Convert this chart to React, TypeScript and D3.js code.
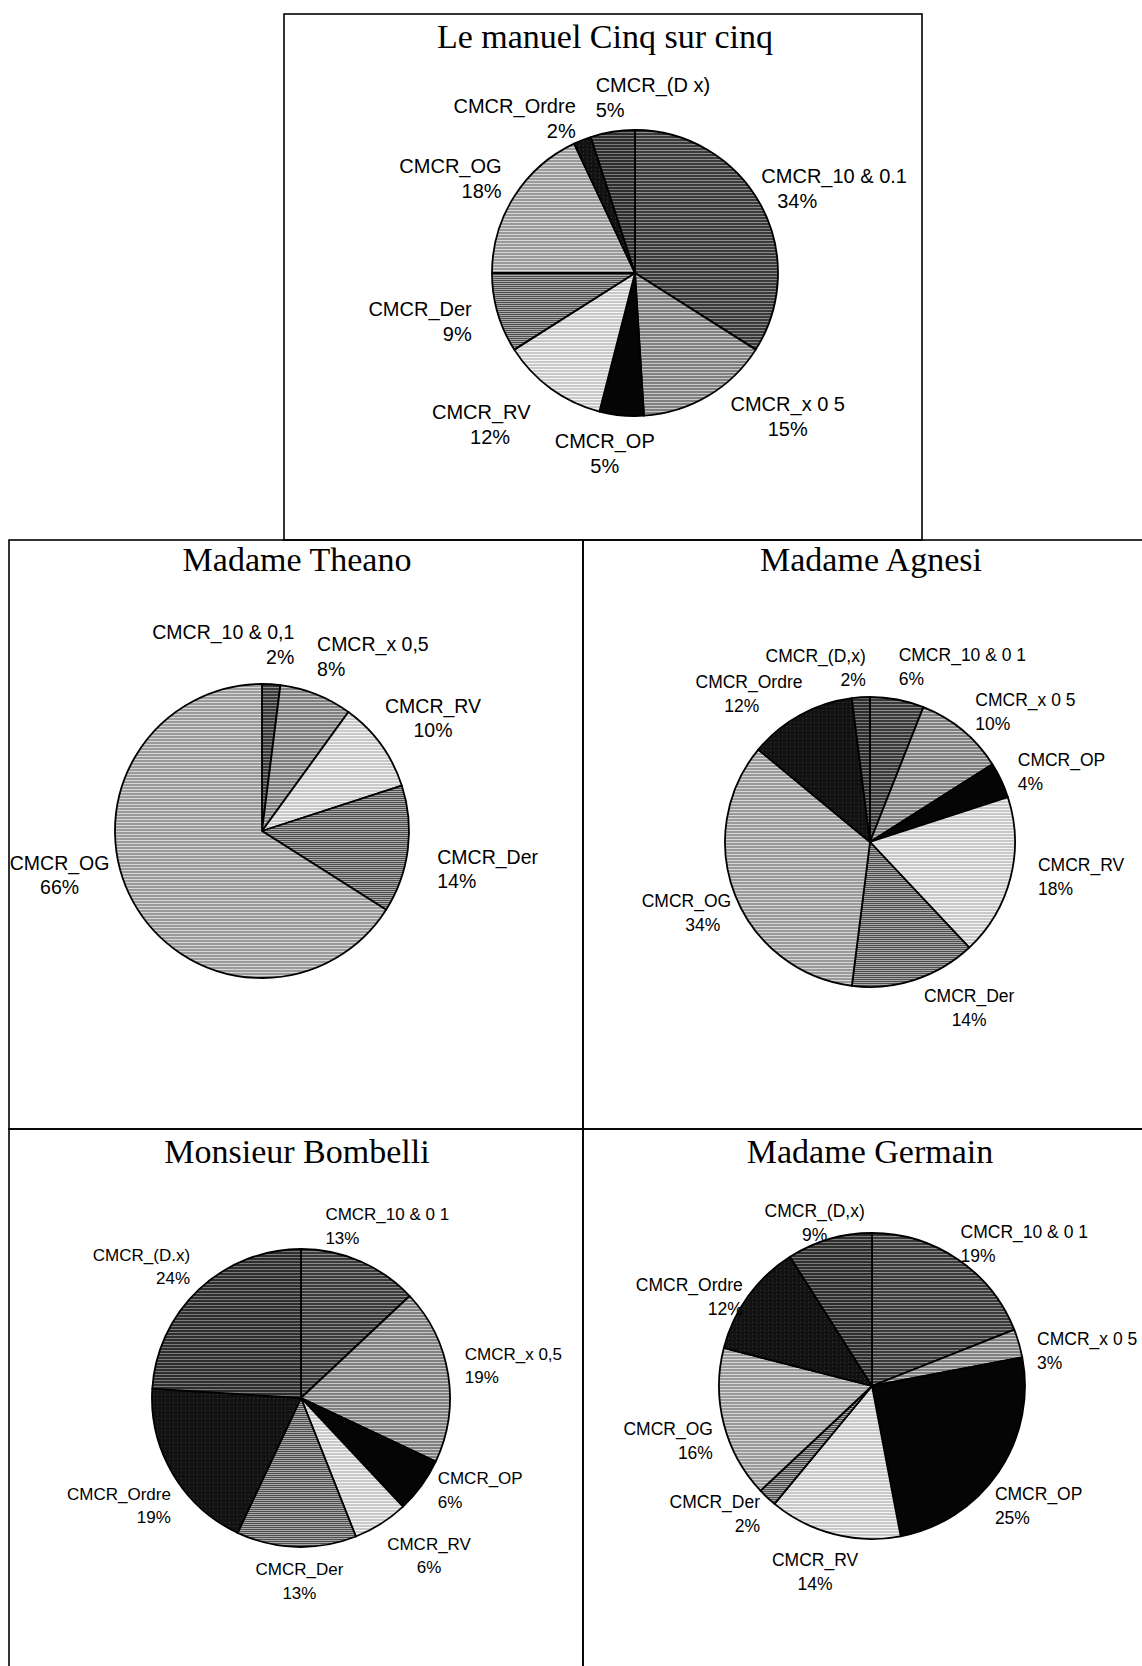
import React from "react";
import * as d3 from "d3";

// ---------- data ----------
const sliceKeys = ["dix", "x05", "op", "rv", "der", "og", "ordre", "dx"];

const titles = [
  "Le manuel Cinq sur cinq",
  "Madame Theano",
  "Madame Agnesi",
  "Monsieur Bombelli",
  "Madame Germain",
];

const cinqValues = [34, 15, 5, 12, 9, 18, 2, 5];
const cinqLabels = ["CMCR_10 & 0.1", "CMCR_x 0 5", "CMCR_OP", "CMCR_RV", "CMCR_Der", "CMCR_OG", "CMCR_Ordre", "CMCR_(D x)"];

const theanoValues = [2, 8, 0, 10, 14, 66, 0, 0];
const theanoLabels = ["CMCR_10 & 0,1", "CMCR_x 0,5", "CMCR_OP", "CMCR_RV", "CMCR_Der", "CMCR_OG", "CMCR_Ordre", "CMCR_(D,x)"];

const agnesiValues = [6, 10, 4, 18, 14, 34, 12, 2];
const agnesiLabels = ["CMCR_10 & 0 1", "CMCR_x 0 5", "CMCR_OP", "CMCR_RV", "CMCR_Der", "CMCR_OG", "CMCR_Ordre", "CMCR_(D,x)"];

const bombelliValues = [13, 19, 6, 6, 13, 0, 19, 24];
const bombelliLabels = ["CMCR_10 & 0 1", "CMCR_x 0,5", "CMCR_OP", "CMCR_RV", "CMCR_Der", "CMCR_OG", "CMCR_Ordre", "CMCR_(D.x)"];

const germainValues = [19, 3, 25, 14, 2, 16, 12, 9];
const germainLabels = ["CMCR_10 & 0 1", "CMCR_x 0 5", "CMCR_OP", "CMCR_RV", "CMCR_Der", "CMCR_OG", "CMCR_Ordre", "CMCR_(D,x)"];

// ---------- style / layout ----------
const W = 1142;
const H = 1666;

const fills: Record<string, { base: string; line: string; step: number }> = {
  dix: { base: "#3a3a3a", line: "#8c8c8c", step: 3 },
  x05: { base: "#808080", line: "#c8c8c8", step: 3 },
  op: { base: "#050505", line: "#050505", step: 3 },
  rv: { base: "#c9c9c9", line: "#f4f4f4", step: 3 },
  der: { base: "#4e4e4e", line: "#a8a8a8", step: 2 },
  og: { base: "#9a9a9a", line: "#d6d6d6", step: 3 },
  ordre: { base: "#121212", line: "#3a3a3a", step: 4 },
  dx: { base: "#2e2e2e", line: "#7a7a7a", step: 3 },
};

// label placement tweaks per slice: [dx, dy, line alignment 0=left..1=right]
const cinqAdjust: [number, number, number][] = [
  [0, 0, 0.15], [45, -12, 0.5], [-11, 0, 0.5], [-34, 5, 0.65], [-17, -3, 1], [-11, 0, 1], [-41, 11, 1], [51, 0, 0],
];
const theanoAdjust: [number, number, number][] = [
  [-54, 11, 1], [27, 10, 0], [0, 0, 0.5], [-7, 4, 0.5], [5, 15, 0], [-8, -49, 0.5], [0, 0, 0.5], [0, 0, 0.5],
];
const agnesiAdjust: [number, number, number][] = [
  [50, 9, 0], [20, 14, 0], [5, 10, 0], [12, -11, 0], [35, -11, 0.5], [9, 3, 0.8], [-17, 16, 0.4], [-41, 13, 1],
];
const bombelliAdjust: [number, number, number][] = [
  [-4, 2, 0], [1, -2, 0], [11, -18, 0], [17, -1, 0.5], [5, -5, 0.5], [0, 0, 0.5], [5, 12, 1], [-13, 7, 1],
];
const germainAdjust: [number, number, number][] = [
  [21, 19, 0], [4, 20, 0], [-10, 12, 0], [-4, -1, 0.5], [-10, -13, 1], [4, 8, 1], [-2, 26, 1], [4, 24, 0.5],
];

const panels = [
  { title: titles[0], values: cinqValues, labels: cinqLabels, adjust: cinqAdjust, fs: 20, lh: 25, ly: 3, box: [284, 14, 922, 540], tx: 605, ty: 48, cx: 635, cy: 273, r: 143, lr: 1.08 },
  { title: titles[1], values: theanoValues, labels: theanoLabels, adjust: theanoAdjust, fs: 19.5, lh: 24.5, ly: 0, box: [9, 540, 583, 1129], tx: 297, ty: 571, cx: 262, cy: 831, r: 147, lr: 1.17 },
  { title: titles[2], values: agnesiValues, labels: agnesiLabels, adjust: agnesiAdjust, fs: 17.5, lh: 24, ly: 0, box: [583, 540, 1170, 1129], tx: 871, ty: 571, cx: 870, cy: 842, r: 145, lr: 1.12 },
  { title: titles[3], values: bombelliValues, labels: bombelliLabels, adjust: bombelliAdjust, fs: 17, lh: 23.5, ly: 0, box: [9, 1129, 583, 1700], tx: 297, ty: 1163, cx: 301, cy: 1398, r: 149, lr: 1.11 },
  { title: titles[4], values: germainValues, labels: germainLabels, adjust: germainAdjust, fs: 17.5, lh: 24, ly: 0, box: [583, 1129, 1170, 1700], tx: 870, ty: 1163, cx: 872, cy: 1386, r: 153, lr: 1.11 },
];

const SANS = '"Liberation Sans", Arial, sans-serif';

let ctx: CanvasRenderingContext2D | null = null;
function measure(s: string, fs: number): number {
  if (!ctx) {
    const c = document.createElement("canvas");
    ctx = c.getContext("2d");
  }
  if (!ctx) return s.length * fs * 0.55;
  ctx.font = `${fs}px ${SANS}`;
  return ctx.measureText(s).width;
}

function Pie({ p, idx }: { p: any; idx: number }) {
  const pie = d3.pie<number>().sort(null).value((d) => d);
  const arcs = pie(p.values);
  const arc = d3.arc<d3.PieArcDatum<number>>().innerRadius(0).outerRadius(p.r);
  const [x0, y0, x1, y1] = p.box;
  const clipId = `clip${idx}`;
  const LH = p.lh;
  return (
    <g>
      <defs>
        <clipPath id={clipId}>
          <rect x={x0} y={y0} width={x1 - x0} height={y1 - y0} />
        </clipPath>
      </defs>
      <rect x={x0} y={y0} width={x1 - x0} height={y1 - y0} fill="none" stroke="#000" strokeWidth={1.6} />
      <text x={p.tx} y={p.ty} textAnchor="middle" fontFamily='"Liberation Serif", "Times New Roman", serif' fontSize={34} fill="#000">
        {p.title}
      </text>
      <g transform={`translate(${p.cx},${p.cy})`}>
        {arcs.map((a, i) =>
          a.value > 0 ? (
            <path key={i} d={arc(a) || ""} fill={`url(#pat-${sliceKeys[i]})`} stroke="#000" strokeWidth={1.8} strokeLinejoin="round" />
          ) : null
        )}
      </g>
      <g clipPath={`url(#${clipId})`}>
        {arcs.map((a, i) => {
          if (a.value <= 0) return null;
          const [adx, ady, align] = p.adjust[i];
          const ang = (a.startAngle + a.endAngle) / 2;
          const sx = Math.sin(ang);
          const sy = -Math.cos(ang);
          const lines = [p.labels[i], `${a.value}%`];
          const ws = lines.map((s) => measure(s, p.fs));
          const w = Math.max(...ws);
          const h = LH * 2;
          const px = p.cx + sx * p.r * p.lr;
          const py = p.cy + sy * p.r * p.lr;
          const bx = px + (sx * w) / 2 - w / 2 + adx;
          const by = py + (sy * h) / 2 - h / 2 + ady + p.ly;
          return (
            <g key={i}>
              {lines.map((s, j) => (
                <text
                  key={j}
                  x={bx + (w - ws[j]) * align}
                  y={by + j * LH + LH * 0.72}
                  fontFamily={SANS}
                  fontSize={p.fs}
                  fill="#000"
                >
                  {s}
                </text>
              ))}
            </g>
          );
        })}
      </g>
    </g>
  );
}

export default function App() {
  return (
    <div style={{ position: "absolute", left: 0, top: 0, width: W, height: H, background: "#fff" }}>
      <svg width={W} height={H} viewBox={`0 0 ${W} ${H}`} style={{ display: "block" }}>
        <defs>
          {sliceKeys.map((k) => {
            const f = fills[k];
            return (
              <pattern key={k} id={`pat-${k}`} patternUnits="userSpaceOnUse" width={4} height={f.step}>
                <rect x={0} y={0} width={4} height={f.step} fill={f.base} />
                <rect x={0} y={0} width={k === "ordre" ? 1 : 4} height={1} fill={f.line} />
              </pattern>
            );
          })}
        </defs>
        <rect x={0} y={0} width={W} height={H} fill="#fff" />
        {panels.map((p, i) => (
          <Pie key={i} p={p} idx={i} />
        ))}
      </svg>
    </div>
  );
}
